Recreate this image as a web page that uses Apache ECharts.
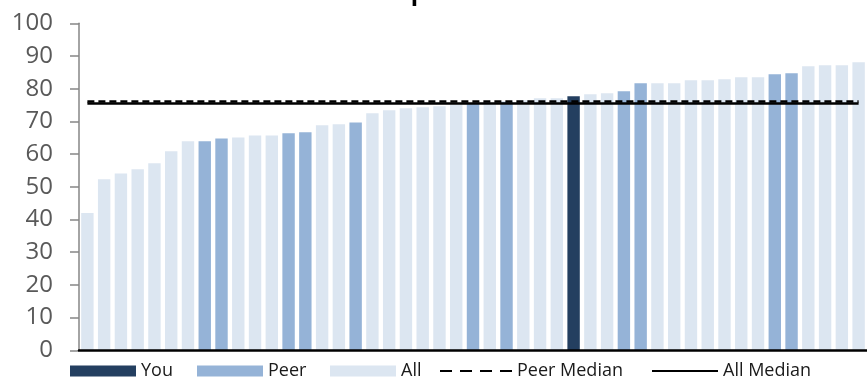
<!DOCTYPE html>
<html><head><meta charset="utf-8">
<script src="https://cdn.jsdelivr.net/npm/echarts@6/dist/echarts.min.js"></script>
<style>html,body{margin:0;padding:0;background:#fff}#c{width:867px;height:377px}</style>
</head><body><div id="c"></div>
<script>
// ---- data ----
const categories = ['1','2','3','4','5','6','7','8','9','10','11','12','13','14','15','16','17','18','19','20','21','22','23','24','25','26','27','28','29','30','31','32','33','34','35','36','37','38','39','40','41','42','43','44','45','46','47'];
const values = [42, 52.3, 54.1, 55.4, 57.2, 60.9, 63.9, 63.9, 64.8, 65.1,
  65.7, 65.7, 66.4, 66.7, 68.8, 69.1, 69.7, 72.5, 73.4, 74.0,
  74.3, 74.6, 75.2, 75.6, 75.7, 76.0, 76.5, 77.1, 77.1, 77.7,
  78.3, 78.6, 79.2, 81.7, 81.7, 81.7, 82.6, 82.6, 82.9, 83.5,
  83.5, 84.4, 84.7, 86.9, 87.2, 87.2, 88.1];
const groups = ['All','All','All','All','All','All','All','Peer','Peer','All',
  'All','All','Peer','Peer','All','All','Peer','All','All','All',
  'All','All','All','Peer','All','Peer','All','All','All','You',
  'All','All','Peer','Peer','All','All','All','All','All','All',
  'All','Peer','Peer','All','All','All','All'];
const peerMedian = 76.1;
const allMedian = 75.5;
const yTicks = {min: 0, max: 100, interval: 10};
const titleText = 'Composite Score';

// ---- build ----
const colors = {You: '#243F60', Peer: '#95B3D7', All: '#DCE6F1'};
const font = 'Open Sans';
function barSeries(name) {
  return {
    name: name, type: 'bar', stack: 'b', barCategoryGap: '26%',
    itemStyle: {color: colors[name]},
    data: values.map((v, i) => groups[i] === name ? v : '-'),
    silent: true
  };
}
function medianSeries(name, val, dash, width, z) {
  return {
    name: name, type: 'line', color: '#000', symbol: 'none', z: z,
    lineStyle: {color: '#000'},
    data: categories.map(() => '-'),
    markLine: {
      silent: true, symbol: 'none', label: {show: false}, z: z,
      lineStyle: {color: '#000', width: width, type: dash},
      data: [[{coord: [categories[0], val]}, {coord: [categories[categories.length - 1], val]}]]
    }
  };
}
const legendBase = {
  orient: 'horizontal', padding: 0, top: 362, itemWidth: 66, itemHeight: 11,
  textStyle: {fontFamily: font, fontSize: 18, color: '#1a1a1a', lineHeight: 16},
  selectedMode: false
};
const option = {
  animation: false,
  title: {text: titleText, left: 352, top: -24,
    textStyle: {fontFamily: font, fontSize: 24, fontWeight: 'bold', color: '#000', lineHeight: 24}},
  grid: {left: 79, right: -2.4, top: 23.3, bottom: 26.7, containLabel: false},
  legend: [
    Object.assign({}, legendBase, {left: 70, data: [{name: 'You', icon: 'rect'}]}),
    Object.assign({}, legendBase, {left: 197, data: [{name: 'Peer', icon: 'rect'}]}),
    Object.assign({}, legendBase, {left: 330, data: [{name: 'All', icon: 'rect'}]}),
    Object.assign({}, legendBase, {left: 440, itemWidth: 72, itemHeight: 2.5,
      data: [{name: 'Peer Median', icon: 'path://M0,0h12v2h-12zM20,0h12v2h-12zM40,0h12v2h-12zM60,0h12v2h-12z'}]}),
    Object.assign({}, legendBase, {left: 652, itemWidth: 66, itemHeight: 2.5,
      data: [{name: 'All Median', icon: 'path://M0,0h66v2h-66z'}]})
  ],
  xAxis: {
    type: 'category', data: categories, z: 10,
    axisLine: {show: true, lineStyle: {color: '#000', width: 2.5}},
    axisTick: {show: false}, axisLabel: {show: false}, splitLine: {show: false}
  },
  yAxis: {
    type: 'value', min: yTicks.min, max: yTicks.max, interval: yTicks.interval,
    axisLine: {show: true, lineStyle: {color: '#868686', width: 1.5}},
    axisTick: {show: true, length: 9, lineStyle: {color: '#868686', width: 1.5}},
    axisLabel: {fontFamily: font, fontSize: 24, color: '#595959', margin: 26},
    splitLine: {show: false}
  },
  series: [
    barSeries('You'), barSeries('Peer'), barSeries('All'),
    medianSeries('All Median', allMedian, 'solid', 2.5, 5),
    medianSeries('Peer Median', peerMedian, [7, 4], 2.5, 6)
  ]
};
const chart = echarts.init(document.getElementById('c'), null, {renderer: 'canvas'});
chart.setOption(option);
</script></body></html>
